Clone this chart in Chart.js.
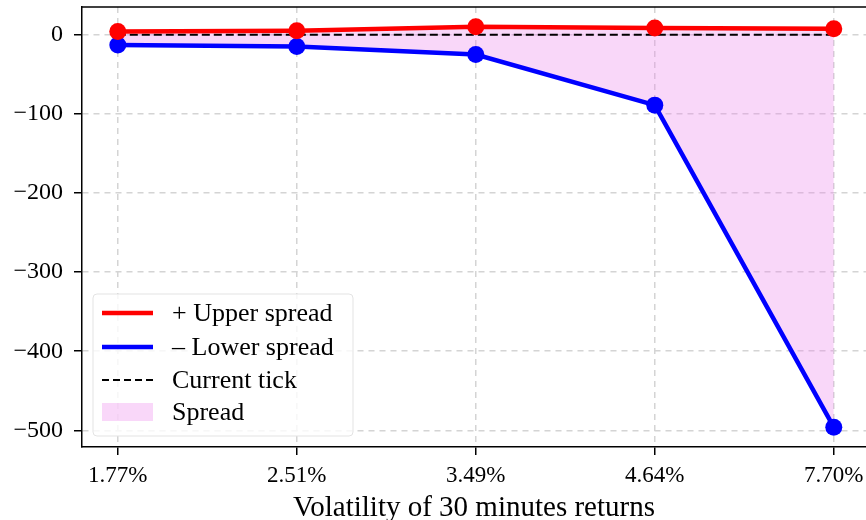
<!DOCTYPE html>
<html>
<head>
<meta charset="utf-8">
<script src="https://cdn.jsdelivr.net/npm/chart.js@4.4.0/dist/chart.umd.min.js"></script>
<style>
  html, body { margin: 0; padding: 0; background: #fff; overflow: hidden; }
  #wrap { width: 866px; height: 520px; }
</style>
</head>
<body>
<div id="wrap"><canvas id="myChart" width="866" height="520"></canvas></div>
<script>
const categories = ['1.77%', '2.51%', '3.49%', '4.64%', '7.70%'];
const upperSpread = [4, 5, 10, 8.5, 7.6];
const lowerSpread = [-13, -15, -25, -89, -496];
const currentTick = [0, 0, 0, 0, 0];
const yTicks = [0, -100, -200, -300, -400, -500];
const legendLabels = ['+ Upper spread', '\u2013 Lower spread', 'Current tick', 'Spread'];

const serif = '"Liberation Serif", "DejaVu Serif", serif';
const spreadColor = 'rgba(235, 130, 235, 0.32)';

function pts(arr) {
  return arr.map((v, i) => ({ x: i, y: v }));
}

// top spine + legend box inside the plot
const framePlugin = {
  id: 'frame',
  afterDraw(chart) {
    const ctx = chart.ctx;
    const a = chart.chartArea;
    ctx.save();
    ctx.strokeStyle = '#000';
    ctx.lineWidth = 1.5;
    ctx.beginPath();
    ctx.moveTo(a.left, a.top);
    ctx.lineTo(a.right, a.top);
    ctx.stroke();

    // legend
    const bx = 93, by = 294, bw = 260, bh = 142;
    ctx.fillStyle = 'rgba(255,255,255,0.8)';
    ctx.strokeStyle = '#e3e3e3';
    ctx.lineWidth = 1;
    ctx.beginPath();
    ctx.roundRect(bx, by, bw, bh, 4);
    ctx.fill();
    ctx.stroke();

    const rows = [313, 347, 380, 412];
    ctx.font = '26px ' + serif;
    ctx.textBaseline = 'middle';
    ctx.textAlign = 'left';
    rows.forEach((y, i) => {
      ctx.save();
      if (i < 3) {
        ctx.beginPath();
        ctx.moveTo(102, y);
        ctx.lineTo(153, y);
        if (i === 0) { ctx.strokeStyle = 'red'; ctx.lineWidth = 4.5; }
        if (i === 1) { ctx.strokeStyle = 'blue'; ctx.lineWidth = 4.5; }
        if (i === 2) { ctx.strokeStyle = '#000'; ctx.lineWidth = 2; ctx.setLineDash([7, 4]); }
        ctx.stroke();
      } else {
        ctx.fillStyle = spreadColor;
        ctx.fillRect(102, y - 9, 51, 18);
      }
      ctx.restore();
      ctx.fillStyle = '#000';
      ctx.fillText(legendLabels[i], 172, y + 1);
    });
    ctx.restore();
  }
};

function noPad(scale) {
  scale.paddingTop = 0;
  scale.paddingBottom = 0;
  scale.paddingLeft = 0;
  scale.paddingRight = 0;
}

const ctx = document.getElementById('myChart').getContext('2d');
let myChart = new Chart(ctx, {
  type: 'line',
  data: {
    datasets: [
      {
        label: legendLabels[0],
        data: pts(upperSpread),
        borderColor: 'red',
        backgroundColor: 'red',
        borderWidth: 4.5,
        pointRadius: 8.5,
        pointBackgroundColor: 'red',
        pointBorderWidth: 0,
        fill: false,
        order: 1,
      },
      {
        label: legendLabels[1],
        data: pts(lowerSpread),
        borderColor: 'blue',
        backgroundColor: spreadColor,
        borderWidth: 4.5,
        pointRadius: 8.5,
        pointBackgroundColor: 'blue',
        pointBorderWidth: 0,
        fill: { target: 0 },
        order: 2,
      },
      {
        label: legendLabels[2],
        data: pts(currentTick),
        borderColor: '#000',
        borderWidth: 2,
        borderDash: [8, 4],
        pointRadius: 0,
        fill: false,
        order: 3,
      },
    ],
  },
  options: {
    responsive: false,
    animation: false,
    layout: { autoPadding: false, padding: { top: 7, left: 0, right: 0, bottom: 0 } },
    plugins: {
      legend: { display: false },
      tooltip: { enabled: false },
      filler: { drawTime: 'beforeDatasetsDraw' },
    },
    scales: {
      x: {
        type: 'linear',
        min: -0.2,
        max: 4.18,
        afterBuildTicks(scale) {
          scale.ticks = categories.map((c, i) => ({ value: i }));
        },
        afterFit(scale) { scale.height = 73; noPad(scale); },
        ticks: {
          callback: (v) => categories[v],
          font: { family: serif, size: 23 },
          color: '#000',
          padding: 7,
          maxRotation: 0,
        },
        grid: {
          color: '#d4d4d4',
          lineWidth: 1.5,
          tickColor: '#000',
          tickLength: 8,
          tickWidth: 1.5,
        },
        border: { color: '#000', width: 1.5, dash: [6, 5] },
        title: {
          display: true,
          text: 'Volatility of 30 minutes returns',
          font: { family: serif, size: 29 },
          color: '#000',
          padding: { top: 0, bottom: -6 },
        },
      },
      y: {
        min: -521,
        max: 35,
        afterBuildTicks(scale) {
          scale.ticks = yTicks.map((v) => ({ value: v }));
        },
        afterFit(scale) { scale.width = 82; noPad(scale); },
        ticks: {
          callback: (v) => (v < 0 ? '\u2212' + Math.abs(v) : String(v)),
          font: { family: serif, size: 24 },
          color: '#000',
          padding: 11,
        },
        grid: {
          color: '#d4d4d4',
          lineWidth: 1.5,
          tickColor: '#000',
          tickLength: 8,
          tickWidth: 1.5,
        },
        border: { color: '#000', width: 1.5, dash: [6, 5] },
      },
    },
  },
  plugins: [framePlugin],
});
</script>
</body>
</html>
